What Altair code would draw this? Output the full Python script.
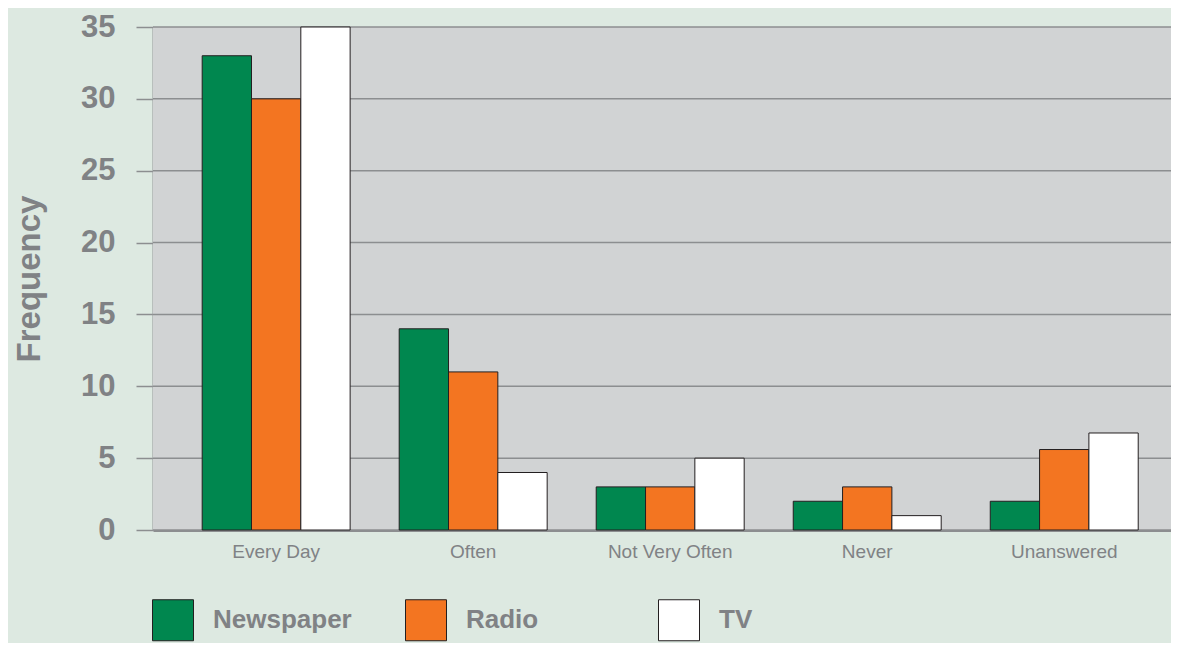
import altair as alt
import pandas as pd

categories = ["Every Day", "Often", "Not Very Often", "Never", "Unanswered"]
series = ["Newspaper", "Radio", "TV"]
newspaper = [33, 14, 3, 2, 2]
radio = [30, 11, 3, 3, 5.6]
tv = [35, 4, 5, 1, 6.75]
colors = ["#00874f", "#f37521", "#ffffff"]
y_ticks = [0, 5, 10, 15, 20, 25, 30, 35]

rows = []
for name, vals in zip(series, [newspaper, radio, tv]):
    for c, v in zip(categories, vals):
        rows.append({"Response": c, "Medium": name, "Frequency": v})
df = pd.DataFrame(rows)
ticks_df = pd.DataFrame({"Frequency": y_ticks})

GRAY = "#808285"
LINE = "#8c8e90"
W, H = 1018, 503

y_enc = alt.Y(
    "Frequency:Q", scale=alt.Scale(domain=[0, 35], nice=False),
    axis=alt.Axis(values=y_ticks, labelFontSize=31, labelFontWeight="bold",
                  labelColor=GRAY, tickSize=17, tickColor=LINE, tickWidth=1.5,
                  labelPadding=21, domainColor="#939598", domainWidth=2,
                  grid=False, title="Frequency",
                  titleFontSize=33, titleFontWeight="bold", titleColor=GRAY,
                  titlePadding=34, labelFlush=False),
)

bg = alt.Chart(pd.DataFrame({"k": [0]})).mark_rect(color="#d1d3d4").encode(
    x=alt.value(0), x2=alt.value(W), y=alt.value(0), y2=alt.value(H)
)

grid = alt.Chart(ticks_df).mark_rule(color=LINE, strokeWidth=1.5).encode(y=y_enc)

bars = alt.Chart(df).mark_bar(stroke="#231f20", strokeWidth=1).encode(
    x=alt.X(
        "Response:N", sort=categories, title=None,
        scale=alt.Scale(paddingInner=0.249, paddingOuter=0.208, align=0.6),
        axis=alt.Axis(labelFontSize=19, labelColor=GRAY, labelAngle=0, ticks=False,
                      labelPadding=12, domainColor=LINE, domainWidth=3,
                      labelFontWeight="normal"),
    ),
    xOffset=alt.XOffset("Medium:N", sort=series,
                        scale=alt.Scale(paddingInner=0, paddingOuter=0)),
    y=y_enc,
    fill=alt.Fill(
        "Medium:N", sort=series,
        scale=alt.Scale(domain=series, range=colors),
        legend=alt.Legend(title=None, orient="none", legendX=-1, legendY=572,
                          direction="horizontal", symbolType="square",
                          symbolSize=1681, symbolStrokeColor="#231f20",
                          symbolStrokeWidth=1, symbolOpacity=1,
                          labelFontSize=26, labelFontWeight="bold",
                          labelColor=GRAY, labelOffset=19, columnPadding=51,
                          gridAlign="all", padding=0, labelLimit=400),
    ),
)

chart = alt.layer(bg, grid, bars).properties(
    width=W, height=H, background="#dde9e1",
    padding={"left": 145, "top": 19, "right": 0, "bottom": 113},
    autosize=alt.AutoSizeParams(type="none"),
).configure_view(
    stroke="transparent"
).configure(font="Liberation Sans")

chart.save("out.html", embed_options={"renderer": "svg", "actions": False})
